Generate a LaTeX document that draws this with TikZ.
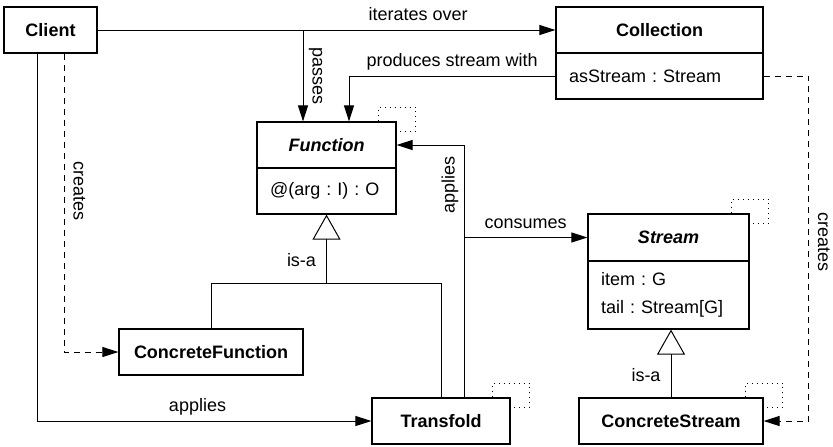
\documentclass[tikz,border=0pt]{standalone}
\usepackage{fontspec}
\setmainfont{Liberation Sans}
\frenchspacing
\usetikzlibrary{arrows.meta,calc}

\tikzset{
  box/.style={draw, fill=white, line width=0.6pt, inner sep=0pt, minimum height=23pt, font=\fontsize{9}{14}\selectfont},
  cls/.style={box, font=\fontsize{9}{14}\selectfont\bfseries},
  abscls/.style={box, font=\fontsize{9}{14}\selectfont\bfseries\itshape},
  ops/.style={box, align=left, inner xsep=6.5pt},
  assoc/.style={line width=0.5pt, -{Triangle[length=8pt,width=5pt]}},
  dep/.style={assoc, dash pattern=on 3pt off 2.5pt},
  gen/.style={line width=0.5pt, -{Triangle[open,length=12.5pt,width=14pt]}},
  link/.style={line width=0.5pt},
  tmpl/.style={line width=0.5pt, dash pattern=on 0.5pt off 2pt},
  lbl/.style={font=\fontsize{9}{11}\selectfont, inner sep=2pt, text depth=0.25em},
}

\begin{document}
\begin{tikzpicture}[x=0.5pt,y=-0.5pt]
\useasboundingbox (0,0) rectangle (833,446);
% classes
\node[cls, minimum width=46.5pt] (client) at (50.5,30) {Client};
\node[cls, minimum width=103.5pt] (coll) at (659.5,30) {Collection};
\node[ops, text width=90.5pt] (collops) at (659.5,76) {asStream : Stream};
\node[abscls, minimum width=69.5pt] (fun) at (326.5,145) {Function};
\node[ops, text width=56.5pt] (funops) at (326.5,191) {@(arg : I) : O};
\node[abscls, minimum width=80.5pt, minimum height=23.5pt] (strm) at (668.5,237.5) {Stream};
\node[ops, text width=67.5pt, minimum height=34pt] (strmops) at (668.5,295) {item : G\\tail : Stream[G]};
\node[cls, minimum width=92pt] (cfun) at (211,352) {ConcreteFunction};
\node[cls, minimum width=69pt] (tfold) at (441,421) {Transfold};
\node[cls, minimum width=92pt] (cstrm) at (671,421) {ConcreteStream};
% template boxes
\foreach \n in {fun,strm,tfold,cstrm}
  \draw[tmpl] ([shift={(-18,0)}]\n.north east) -- ++(0,-14) -- ++(37,0) -- ++(0,24) -- ++(-19,0);
% associations
\coordinate (pass) at (303,30);
\coordinate (tup) at ([shift={(23,0)}]tfold.north);
\coordinate (cons) at (tup |- strm.west);
\draw[assoc] (client) -- node[lbl, above, pos=0.7]{iterates over} (coll);
\draw[assoc] (pass) -- node[lbl, anchor=south, rotate=-90]{passes} (pass |- fun.north);
\draw[assoc] (collops.west) -| node[lbl, above, pos=0.25]{produces stream with} ([shift={(22.5,0)}]fun.north);
\draw[assoc] (tup) |- node[lbl, anchor=south, rotate=90, pos=0.42]{applies} (fun.east);
\draw[assoc] (cons) -- node[lbl, above]{consumes} (strm.west);
\draw[assoc] ([shift={(-13.5,0)}]client.south) |- node[lbl, above, pos=0.74]{applies} (tfold.west);
% creation
\draw[dep] ([shift={(13.5,0)}]client.south) |- node[lbl, anchor=south, rotate=-90, pos=0.23]{creates} (cfun.west);
\draw[dep] (collops.east) -- ++(45,0) |- node[lbl, anchor=south, rotate=-90, pos=0.24]{creates} (cstrm.east);
% generalisation
\coordinate (fjoin) at ([shift={(0,69)}]funops.south);
\draw[link] (cfun.north) |- (fjoin) -| (tfold.north);
\draw[gen] (fjoin) -- node[lbl, left=3pt, pos=0.3]{is-a} (funops.south);
\draw[gen] (cstrm.north) -- node[lbl, left=3pt, pos=0.3]{is-a} (cstrm.north |- strmops.south);
\end{tikzpicture}
\end{document}
